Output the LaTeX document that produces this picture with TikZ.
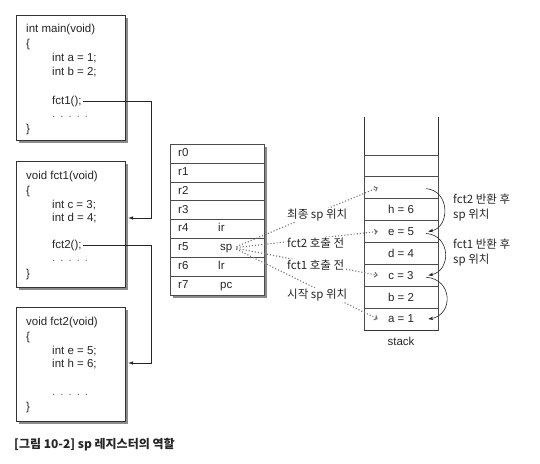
\documentclass[tikz,border=0pt]{standalone}
\usepackage{fontspec}
\setmainfont{Liberation Sans}
\newfontfamily\kr{Noto Sans CJK KR}
\usetikzlibrary{arrows.meta}
\begin{document}
\begin{tikzpicture}[x=1pt,y=-1pt,
  every node/.style={font=\fontsize{11.5}{14}\selectfont, text=black!85, inner sep=1pt},
  tline/.style={text height=8.5pt, text depth=2.5pt},
  codebox/.style={draw=black!80, fill=white, line width=0.6pt, minimum width=109pt, inner sep=0pt},
  boxshadow/.style={fill=black!45},
  codeline/.style={anchor=west, tline},
  dots/.style={anchor=west, text=black!55},
  callarrow/.style={draw=black!85, line width=0.8pt, -{Latex[length=5pt,width=3.5pt]}},
  sparrow/.style={draw=black!55, line width=1.1pt, dotted, shorten <=3pt, -{Straight Barb[length=2.5pt,width=5pt]}},
  retarrow/.style={draw=black!85, line width=0.6pt, -{Stealth[length=5pt,width=3.5pt]}},
  regrow/.style={draw=black!70, fill=white, line width=0.5pt, minimum width=94pt, minimum height=18.875pt, inner sep=0pt},
  regtext/.style={anchor=west, tline},
  cell/.style={draw=black!70, line width=0.5pt, minimum width=74pt, minimum height=21.9pt, inner sep=0pt},
  splabel/.style={anchor=west, fill=white, inner sep=1pt, font=\kr\fontsize{11.5}{14}\selectfont},
  note/.style={anchor=west, align=left, font=\kr\fontsize{11.5}{15}\selectfont}
]
\useasboundingbox (0,0) rectangle (540,463);

% ---- main() ----
\fill[boxshadow] (19,18) rectangle (128,143);
\node[codebox, minimum height=125pt] (mainbox) at (70.5,77.5) {};
\node[codeline] (m0) at (25,29) {int main(void)};
\node[codeline] (m1) at (25,44) {\{};
\node[codeline] (m2) at (51,58) {int a = 1;};
\node[codeline] (m3) at (51,72) {int b = 2;};
\node[codeline] (call1) at (51,101) {fct1();};
\node[dots] (m5) at (51,117) {.\hspace{5pt}.\hspace{5pt}.\hspace{5pt}.\hspace{5pt}.};
\node[codeline] (m6) at (25,129) {\}};

% ---- fct1() ----
\fill[boxshadow] (19,164) rectangle (128,290);
\node[codebox, minimum height=126pt] (fct1box) at (70.5,224) {};
\node[codeline] (a0) at (25,176) {void fct1(void)};
\node[codeline] (a1) at (25,191) {\{};
\node[codeline] (a2) at (51,205) {int c = 3;};
\node[codeline] (a3) at (51,218) {int d = 4;};
\node[codeline] (call2) at (51,245) {fct2();};
\node[dots] (a5) at (51,261) {.\hspace{5pt}.\hspace{5pt}.\hspace{5pt}.\hspace{5pt}.};
\node[codeline] (a6) at (25,274) {\}};

% ---- fct2() ----
\fill[boxshadow] (19,310) rectangle (128,424);
\node[codebox, minimum height=114pt] (fct2box) at (70.5,364) {};
\node[codeline] (b0) at (25,322) {void fct2(void)};
\node[codeline] (b1) at (25,337) {\{};
\node[codeline] (b2) at (51,351) {int e = 5;};
\node[codeline] (b3) at (51,364) {int h = 6;};
\node[dots] (b5) at (51,395) {.\hspace{5pt}.\hspace{5pt}.\hspace{5pt}.\hspace{5pt}.};
\node[codeline] (b6) at (25,407) {\}};

% ---- call connectors ----
\coordinate (bend1) at (151,218);
\coordinate (in1) at (128,218);
\draw[callarrow] (call1.east) -| (bend1) -- (in1);
\coordinate (bend2) at (151,363);
\coordinate (in2) at (128,363);
\draw[callarrow] (call2.east) -| (bend2) -- (in2);

% ---- register file ----
\fill[boxshadow] (173,147) rectangle (267,298);
\foreach \i in {0,...,7} {
  \node[regrow] (row\i) at (217,{144+18.875*(\i+0.5)}) {};
  \node[regtext] (rn\i) at (177,{144+18.875*(\i+0.5)}) {r\i};
}
\node[regtext] (ir) at (217,{144+18.875*4.5}) {ir};
\node[regtext] (sp) at (219,{144+18.875*5.5}) {sp};
\node[regtext] (lr) at (217,{144+18.875*6.5}) {lr};
\node[regtext] (pc) at (219,{144+18.875*7.5}) {pc};

% ---- stack ----
\draw[black!80, line width=0.6pt] (364,117) -- (364,330) -- (438,330) -- (438,117);
\node[cell] (s8) at (401,165.75) {};
\node[cell] (s7) at (401,187.65) {};
\node[cell] (s6) at (401,209.55) {h = 6};
\node[cell] (s5) at (401,231.45) {e = 5};
\node[cell] (s4) at (401,253.35) {d = 4};
\node[cell] (s3) at (401,275.25) {c = 3};
\node[cell] (s2) at (401,297.15) {b = 2};
\node[cell] (s1) at (401,319.05) {a = 1};
\draw[black!80, line width=0.6pt] (364,330) -- (438,330);
\node (stacklbl) at (401,341) {stack};

% ---- sp pointers ----
\draw[sparrow] (sp.east) -- ([xshift=14pt]s7.west);
\draw[sparrow] (sp.east) -- ([xshift=14pt]s5.west);
\draw[sparrow] (sp.east) -- ([xshift=14pt]s3.west);
\draw[sparrow] (sp.east) -- ([xshift=14pt]s1.west);
\node[splabel] (lfinal) at (286,215) {최종 sp 위치};
\node[splabel] (lbf2) at (286,243) {fct2 호출 전};
\node[splabel] (lbf1) at (286,265) {fct1 호출 전};
\node[splabel] (lstart) at (286,295) {시작 sp 위치};

% ---- returns ----
\draw[retarrow] ([xshift=-12pt,yshift=-1pt]s7.east) .. controls +(24,2) and +(22,-4) .. ([xshift=-10pt]s5.east);
\draw[retarrow] ([xshift=-12pt,yshift=-2pt]s5.east) .. controls +(25,2) and +(23,-4) .. ([xshift=-10pt]s3.east);
\draw[retarrow] ([xshift=-12pt,yshift=-2pt]s3.east) .. controls +(27,2) and +(25,-4) .. ([xshift=-10pt]s1.east);
\node[note] (n2) at (452,208) {fct2 반환 후\\sp 위치};
\node[note] (n1) at (452,253) {fct1 반환 후\\sp 위치};

% ---- caption ----
\node[anchor=west, font=\kr\bfseries\fontsize{12}{14}\selectfont] (cap) at (13,445) {[그림 10-2] sp 레지스터의 역할};
\end{tikzpicture}
\end{document}
